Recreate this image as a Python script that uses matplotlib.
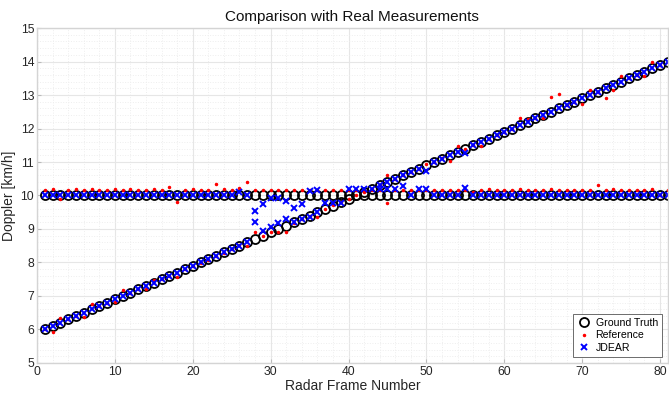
import numpy as np
import matplotlib
matplotlib.use('Agg')
import matplotlib.pyplot as plt
from matplotlib.ticker import MultipleLocator

nan = np.nan

frames = list(range(1, 82))

# ground truth: constant target and accelerating target
gt_const = [10.0] * 81
gt_lin = [6.0, 6.1, 6.2, 6.3, 6.4, 6.5, 6.6, 6.7, 6.8, 6.9,
          7.0, 7.1, 7.2, 7.3, 7.4, 7.5, 7.6, 7.7, 7.8, 7.9,
          8.0, 8.1, 8.2, 8.3, 8.4, 8.5, 8.6, 8.7, 8.8, 8.9,
          9.0, 9.1, 9.2, 9.3, 9.4, 9.5, 9.6, 9.7, 9.8, 9.9,
          10.0, 10.1, 10.2, 10.3, 10.4, 10.5, 10.6, 10.7, 10.8, 10.9,
          11.0, 11.1, 11.2, 11.3, 11.4, 11.5, 11.6, 11.7, 11.8, 11.9,
          12.0, 12.1, 12.2, 12.3, 12.4, 12.5, 12.6, 12.7, 12.8, 12.9,
          13.0, 13.1, 13.2, 13.3, 13.4, 13.5, 13.6, 13.7, 13.8, 13.9,
          14.0]

# reference method
ref_a = [10.17, 10.18, 9.89, 10.17, 10.18, 10.17, 10.18, 10.17, 10.17, 10.18,
         10.17, 10.18, 10.17, 10.17, 10.18, 10.17, 10.26, 9.81, 10.17, 10.18,
         10.17, 10.17, 10.33, 10.18, 10.17, 10.22, 10.41, 10.16, 10.16, 10.15,
         10.16, 10.15, 10.16, 10.15, 10.16, 10.15, 10.16, 10.15, 10.16, 10.15,
         10.15, 10.16, 10.17, 10.16, 9.77, 10.16, 10.17, 10.16, 10.17, 10.16,
         10.17, 10.16, 10.17, 10.16, 10.17, 10.09, 10.17, 10.18, 10.17, 10.16,
         10.17, 10.18, 10.17, 10.16, 10.17, 10.18, 10.17, 10.17, 10.16, 10.17,
         10.17, 10.31, 10.17, 10.18, 10.17, 10.16, 10.17, 10.17, 10.18, 10.02,
         10.17]
ref_b = [6.00, 5.93, 6.33, 6.30, 6.40, 6.37, 6.75, 6.70, 6.80, 6.83,
         7.17, 7.10, 7.20, 7.22, 7.47, 7.50, 7.60, 7.58, 7.80, 7.90,
         7.97, 8.08, 8.18, 8.28, 8.40, 8.52, 8.49, 8.92, 8.80, 8.90,
         8.92, 8.92, 9.18, 9.30, 9.40, 9.37, 9.60, 9.72, 9.80, 9.90,
         10.00, 10.10, 10.20, 10.30, 10.61, 10.50, 10.60, 10.70, 10.80, 10.95,
         11.00, 11.12, 11.03, 11.48, 11.40, 11.50, 11.49, 11.70, 11.82, 11.90,
         12.00, 12.30, 12.27, 12.30, 12.30, 12.95, 13.02, 12.70, 12.80, 12.72,
         13.15, 13.10, 12.90, 13.15, 13.58, 13.50, 13.60, 13.58, 14.00, 13.90,
         14.00]

# JDEAR
jd_a = [10.0, 10.0, 10.0, 10.0, 10.0, 10.0, 10.0, 10.0, 10.0, 10.0,
        10.0, 10.0, 10.0, 10.0, 10.0, 10.0, 10.0, 10.0, 10.0, 10.0,
        10.0, 10.0, 10.0, 10.0, 10.0, 10.09, 10.0, 9.55, 9.75, 9.92,
        9.92, 9.85, 9.62, 9.76, 10.14, 10.15, 9.79, 9.79, 9.79, 10.18,
        10.18, 10.18, 10.18, 10.18, 10.18, 10.18, 10.28, 10.0, 10.18, 10.18,
        10.0, 10.0, 10.0, 10.0, 10.21, 10.0, 10.0, 10.0, 10.0, 10.0,
        10.0, 10.0, 10.0, 10.0, 10.0, 10.0, 10.0, 10.0, 10.0, 10.0,
        10.0, 10.0, 10.0, 10.0, 10.0, 10.0, 10.0, 10.0, 10.0, 10.0,
        10.0]
jd_b = [6.0, 6.1, 6.2, 6.3, 6.4, 6.5, 6.6, 6.7, 6.8, 6.9,
        7.0, 7.1, 7.2, 7.3, 7.4, 7.5, 7.6, 7.7, 7.8, 7.9,
        8.0, 8.1, 8.2, 8.3, 8.4, 8.5, 8.6, 9.20, 8.95, 9.07,
        9.17, 9.30, 9.2, 9.3, 9.35, 9.5, nan, nan, nan, nan,
        nan, nan, nan, 10.3, 10.4, 10.5, 10.6, 10.7, 10.8, 10.74,
        11.0, 11.1, 11.2, 11.3, 11.26, 11.5, 11.6, 11.7, 11.8, 11.9,
        12.0, 12.1, 12.2, 12.3, 12.4, 12.5, 12.6, 12.7, 12.8, 12.9,
        13.0, 13.1, 13.2, 13.3, 13.4, 13.5, 13.6, 13.7, 13.8, 13.9,
        14.0]

plt.rcParams['font.family'] = ['Liberation Sans', 'DejaVu Sans']

fig = plt.figure(figsize=(6.69, 3.98), dpi=100)
ax = fig.add_axes([0.0553, 0.088, 0.943, 0.8416])

ax.plot(frames + frames, gt_const + gt_lin, 'o', mfc='none', mec='black', ms=6.5, mew=1.3,
        label='Ground Truth')
ax.plot(frames + frames, ref_a + ref_b, '.', color='red', ms=3, label='Reference')
ax.plot(frames + frames, jd_a + jd_b, 'x', color='blue', ms=4.3, mew=1.4, label='JDEAR')

ax.set_xlim(0, 81)
ax.set_ylim(5, 15)
ax.xaxis.set_major_locator(MultipleLocator(10))
ax.xaxis.set_minor_locator(MultipleLocator(2))
ax.yaxis.set_major_locator(MultipleLocator(1))
ax.yaxis.set_minor_locator(MultipleLocator(0.2))
ax.grid(True, which='major', color='#e6e6e6', linestyle='-', linewidth=0.8)
ax.grid(True, which='minor', color='#eeeeee', linestyle=':', linewidth=0.7)
ax.set_axisbelow(True)
for s in ax.spines.values():
    s.set_color('#d4d4d4')
    s.set_linewidth(1.0)
ax.tick_params(which='major', direction='in', length=3, pad=2, colors='#bbbbbb',
               labelcolor='#262626', labelsize=8.8)
ax.tick_params(which='minor', length=0)

ax.set_title('Comparison with Real Measurements', fontsize=11, color='#111111', pad=5)
ax.set_xlabel('Radar Frame Number', fontsize=10, color='#262626', labelpad=1)
ax.set_ylabel('Doppler [km/h]', fontsize=10, color='#262626', labelpad=3)

leg = ax.legend(loc='lower right', fontsize=7.6, framealpha=1, edgecolor='#555555',
                fancybox=False, borderpad=0.35, labelspacing=0.25, handletextpad=0.4,
                handlelength=1.4, borderaxespad=0.6)
leg.get_frame().set_linewidth(0.6)

fig.savefig('out.png', dpi=100)
